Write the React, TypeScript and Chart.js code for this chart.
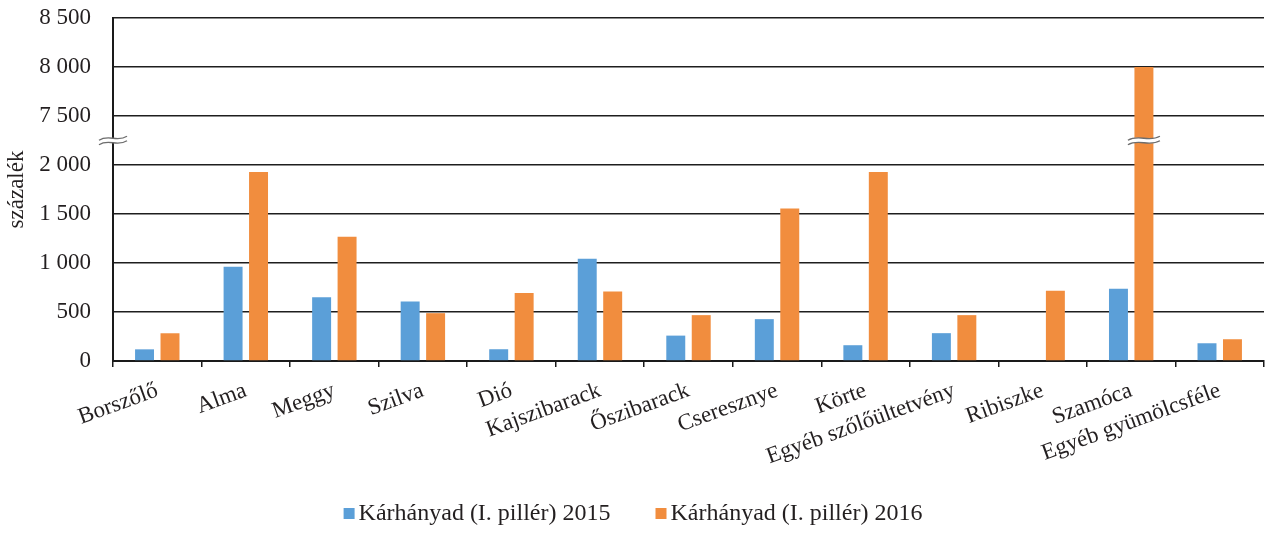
import React, { useEffect, useRef } from "react";
import { Chart, registerables } from "chart.js";

Chart.register(...registerables);

const categories = [
  "Borszőlő",
  "Alma",
  "Meggy",
  "Szilva",
  "Dió",
  "Kajszibarack",
  "Őszibarack",
  "Cseresznye",
  "Körte",
  "Egyéb szőlőültetvény",
  "Ribiszke",
  "Szamóca",
  "Egyéb gyümölcsféle",
];
const values2015 = [119, 962, 650, 607, 120, 1044, 259, 427, 161, 284, 0, 737, 181];
const values2016 = [283, 1929, 1268, 488, 693, 710, 468, 1556, 1928, 468, 717, 8000, 222];
const seriesLabels = ["Kárhányad (I. pillér) 2015", "Kárhányad (I. pillér) 2016"];
const yAxisTitle = "százalék";
const yTickValues = [0, 500, 1000, 1500, 2000, 7500, 8000, 8500];

// broken axis: values above breakLow jump to breakHigh, leaving one tick interval
const breakLow = 2000;
const breakHigh = 7500;
const tickStep = 500;
const shift = breakHigh - breakLow - tickStep;

const toAxis = (v: number) => (v <= breakLow ? v : v - shift);
const fromAxis = (a: number) => (a <= breakLow ? a : a + shift);

const BLUE = "#5B9FD8";
const ORANGE = "#F18D3E";
const TEXT = "#231F20";
const FONT = "'Liberation Serif', 'Times New Roman', serif";

const fmt = (v: number) => {
  const s = Math.round(v).toString();
  return s.replace(/\B(?=(\d{3})+(?!\d))/g, " ");
};

function drawBreak(ctx: CanvasRenderingContext2D, cx: number, cy: number, w: number) {
  const x0 = cx - w / 2;
  const x1 = cx + w / 2;
  const gap = 4.5;
  const amp = 4.5;
  const tilt = 2;
  const wave = (y: number, reverse: boolean) => {
    if (!reverse) {
      ctx.moveTo(x0, y + tilt);
      ctx.bezierCurveTo(x0 + w * 0.35, y - amp, x0 + w * 0.65, y + amp, x1, y - tilt);
    } else {
      ctx.lineTo(x1, y - tilt);
      ctx.bezierCurveTo(x0 + w * 0.65, y + amp, x0 + w * 0.35, y - amp, x0, y + tilt);
    }
  };
  ctx.save();
  ctx.beginPath();
  wave(cy - gap / 2, false);
  wave(cy + gap / 2, true);
  ctx.closePath();
  ctx.fillStyle = "#ffffff";
  ctx.fill();
  ctx.strokeStyle = "#6d6d6d";
  ctx.lineWidth = 1.4;
  ctx.beginPath();
  wave(cy - gap / 2, false);
  ctx.stroke();
  ctx.beginPath();
  wave(cy + gap / 2, false);
  ctx.stroke();
  ctx.restore();
}

const breakPlugin = {
  id: "breakMarks",
  afterDatasetsDraw(chart: any) {
    const ctx = chart.ctx as CanvasRenderingContext2D;
    const y = chart.scales.y;
    const cy = y.getPixelForValue(breakLow + tickStep / 2);
    drawBreak(ctx, chart.chartArea.left, cy, 28);
    chart.data.datasets.forEach((ds: any, di: number) => {
      const meta = chart.getDatasetMeta(di);
      ds.raw.forEach((v: number, i: number) => {
        if (v > breakLow) {
          const bar = meta.data[i];
          drawBreak(ctx, bar.x, cy, 32);
        }
      });
    });
  },
};

const legendPlugin = {
  id: "customLegend",
  afterDraw(chart: any) {
    const ctx = chart.ctx as CanvasRenderingContext2D;
    ctx.save();
    ctx.font = `24px ${FONT}`;
    ctx.textBaseline = "alphabetic";
    const box = 11;
    const boxGap = 4;
    const itemGap = 45;
    const colors = [BLUE, ORANGE];
    const widths = seriesLabels.map((t) => ctx.measureText(t).width);
    const total = widths.reduce((a, w) => a + box + boxGap + w, 0) + itemGap * (seriesLabels.length - 1);
    let x = 633 - total / 2;
    const baseline = 520;
    seriesLabels.forEach((t, i) => {
      ctx.fillStyle = colors[i];
      ctx.fillRect(x, baseline - 12, box, box);
      x += box + boxGap;
      ctx.fillStyle = TEXT;
      ctx.fillText(t, x, baseline);
      x += widths[i] + itemGap;
    });
    ctx.restore();
  },
};

export default function App() {
  const ref = useRef<HTMLCanvasElement | null>(null);

  useEffect(() => {
    document.body.style.margin = "0";
    const canvas = ref.current;
    if (!canvas) return;
    const chart = new Chart(canvas, {
      type: "bar",
      data: {
        labels: categories,
        datasets: [
          {
            label: seriesLabels[0],
            data: values2015.map(toAxis),
            raw: values2015,
            backgroundColor: BLUE,
            categoryPercentage: 0.575,
            barPercentage: 0.745,
          } as any,
          {
            label: seriesLabels[1],
            data: values2016.map(toAxis),
            raw: values2016,
            backgroundColor: ORANGE,
            categoryPercentage: 0.575,
            barPercentage: 0.745,
          } as any,
        ],
      },
      options: {
        responsive: false,
        animation: false,
        layout: { padding: { top: 18, right: 3, bottom: 0, left: 0 } },
        plugins: {
          legend: { display: false },
          tooltip: { enabled: false },
        },
        scales: {
          x: {
            grid: {
              offset: true,
              drawOnChartArea: false,
              drawTicks: true,
              tickLength: 6,
              color: "#1a1a1a",
              lineWidth: 1.5,
            },
            border: { color: "#1a1a1a", width: 2 },
            ticks: {
              autoSkip: false,
              maxRotation: 20,
              minRotation: 20,
              padding: 10,
              color: TEXT,
              font: { family: FONT, size: 23 },
            },
            afterFit: (scale: any) => {
              scale.height = 536 - 361;
            },
          },
          y: {
            min: 0,
            max: toAxis(yTickValues[yTickValues.length - 1]),
            afterBuildTicks: (scale: any) => {
              scale.ticks = yTickValues.map((v) => ({ value: toAxis(v) }));
            },
            grid: {
              drawTicks: false,
              color: "#1e1e1e",
              lineWidth: 1.6,
            },
            border: { color: "#1a1a1a", width: 2 },
            ticks: {
              padding: 22,
              color: TEXT,
              font: { family: FONT, size: 23 },
              callback: (v: any) => fmt(fromAxis(Number(v))),
            },
            title: {
              display: true,
              text: yAxisTitle,
              color: TEXT,
              font: { family: FONT, size: 23 },
              padding: { top: 3, bottom: 0 },
            },
            afterFit: (scale: any) => {
              scale.width = 113;
              scale.paddingTop = 0;
              scale.paddingBottom = 0;
            },
          },
        },
      },
      plugins: [breakPlugin, legendPlugin],
    });
    return () => chart.destroy();
  }, []);

  return <canvas ref={ref} width={1267} height={536} style={{ display: "block" }} />;
}
